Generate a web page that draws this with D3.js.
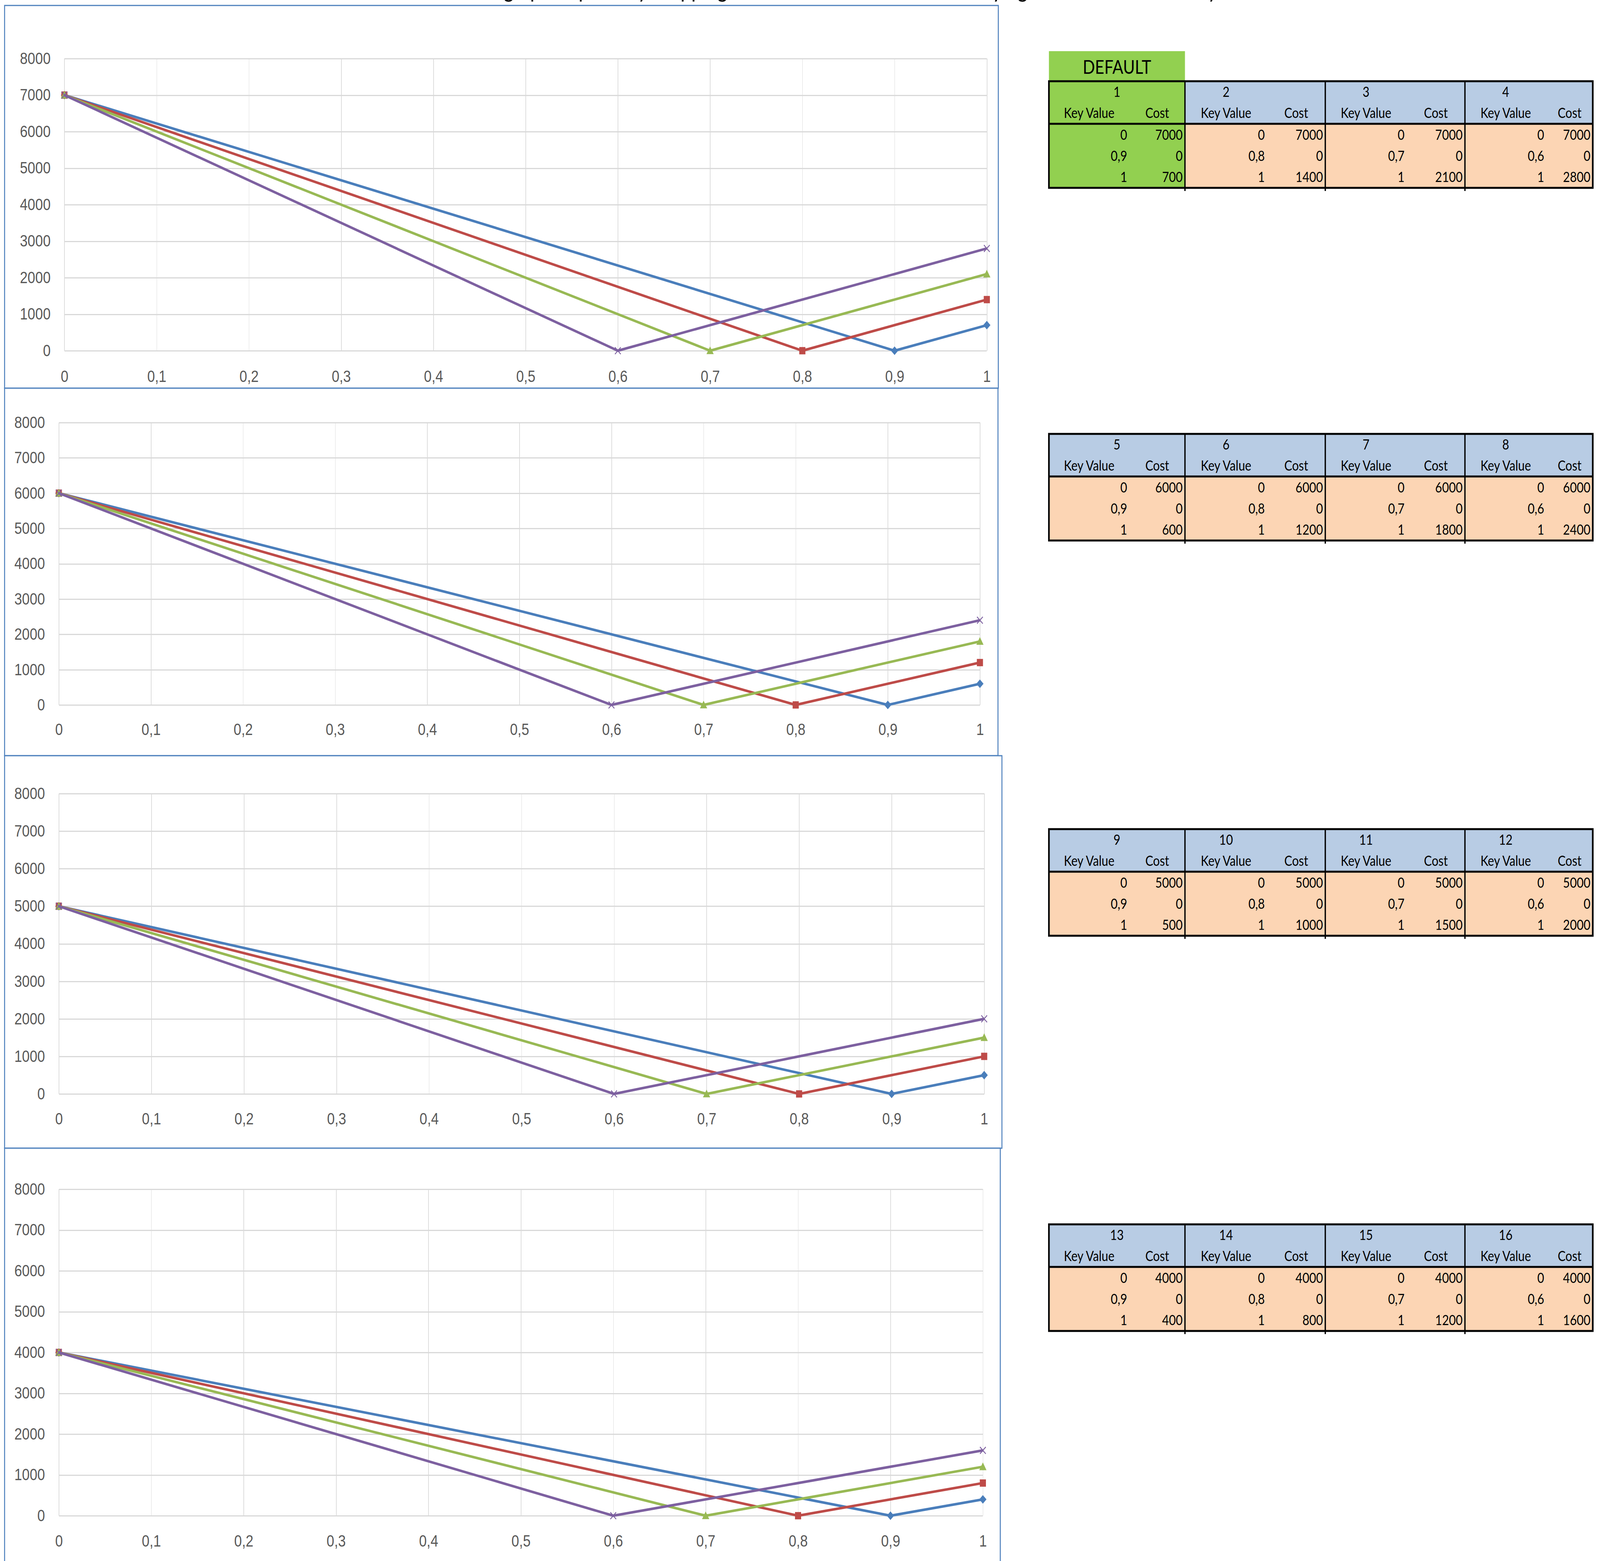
<!DOCTYPE html>
<html>
<head>
<script src="https://cdn.jsdelivr.net/npm/d3@7"></script>
<style>
  html, body { margin: 0; padding: 0; background: #fff; overflow: hidden; }
  svg { display: block; font-family: Lato, "Open Sans", sans-serif; }
  .grid line { shape-rendering: crispEdges; }
  .axis path, .grid path { display: none; }
  .axis text { fill: #595959; font-size: 42px; }
</style>
</head>
<body>
<script>
// ---- data ----
var tableNumbers = [[1, 2, 3, 4], [5, 6, 7, 8], [9, 10, 11, 12], [13, 14, 15, 16]];

// key values per series (same in every group)
var keyValues = [
  [0, 0.9, 1],
  [0, 0.8, 1],
  [0, 0.7, 1],
  [0, 0.6, 1]
];

// cost per group, per series
var costsGroup1 = [[7000, 0, 700], [7000, 0, 1400], [7000, 0, 2100], [7000, 0, 2800]];
var costsGroup2 = [[6000, 0, 600], [6000, 0, 1200], [6000, 0, 1800], [6000, 0, 2400]];
var costsGroup3 = [[5000, 0, 500], [5000, 0, 1000], [5000, 0, 1500], [5000, 0, 2000]];
var costsGroup4 = [[4000, 0, 400], [4000, 0, 800], [4000, 0, 1200], [4000, 0, 1600]];
var costs = [costsGroup1, costsGroup2, costsGroup3, costsGroup4];

var xTicks = [0, 0.1, 0.2, 0.3, 0.4, 0.5, 0.6, 0.7, 0.8, 0.9, 1];
var xTickLabels = ["0", "0,1", "0,2", "0,3", "0,4", "0,5", "0,6", "0,7", "0,8", "0,9", "1"];
var yTicks = [0, 1000, 2000, 3000, 4000, 5000, 6000, 7000, 8000];
var yTickLabels = ["0", "1000", "2000", "3000", "4000", "5000", "6000", "7000", "8000"];

var titleText = "Move the graph of point by dropping the start cost and then also varying the end cost in line by hand";

// ---- layout (sheet pixels) ----
var W = 4869, H = 3997;
var seriesColors = ["#4a7ebb", "#be4b48", "#98b954", "#7d60a0"];

var panes = [
  {box: [14, 14, 3038, 994],    x0: 196, x1: 3003, yTop: 150,  yBot: 898,  labelY: 963},
  {box: [14, 994, 3037, 1935],  x0: 179, x1: 2982, yTop: 1082, yBot: 1805, labelY: 1867},
  {box: [14, 1935, 3049, 2940], x0: 179, x1: 2995, yTop: 2032, yBot: 2801, labelY: 2864},
  {box: [14, 2940, 3044, 4120], x0: 179, x1: 2991, yTop: 3045, yBot: 3881, labelY: 3945}
];

var tableTops = [208, 1111, 2123, 3135];
var cellX = [3192, 3437, 3606, 3856, 4033, 4281, 4458, 4706, 4847];
var headH = 109, bodyH = 164;

// the window is narrower than the sheet, so the drawing is fitted to it
var svg = d3.select("body").append("svg")
  .attr("viewBox", "0 0 " + W + " " + H)
  .attr("preserveAspectRatio", "none")
  .style("width", "100vw")
  .style("height", "100vh");

svg.append("rect").attr("width", W).attr("height", H).attr("fill", "#fff");

// marker shapes (size = half extent)
var markerTypes = [
  {draw: function (c, s) { c.moveTo(0, -s); c.lineTo(s, 0); c.lineTo(0, s); c.lineTo(-s, 0); c.closePath(); }},
  {draw: function (c, s) { c.rect(-s * 0.85, -s * 0.85, s * 1.7, s * 1.7); }},
  {draw: function (c, s) { c.moveTo(0, -s); c.lineTo(s, s * 0.8); c.lineTo(-s, s * 0.8); c.closePath(); }},
  {draw: function (c, s) { c.moveTo(-s * 0.8, -s * 0.8); c.lineTo(s * 0.8, s * 0.8); c.moveTo(s * 0.8, -s * 0.8); c.lineTo(-s * 0.8, s * 0.8); }}
];

function fmt(v) {
  return String(v).replace(".", ",");
}

// ---- charts ----
panes.forEach(function (p, gi) {
  var g = svg.append("g");

  g.append("rect")
    .attr("x", p.box[0]).attr("y", p.box[1])
    .attr("width", p.box[2] - p.box[0]).attr("height", p.box[3] - p.box[1])
    .attr("fill", "#fff");

  var x = d3.scaleLinear().domain([0, 1]).range([p.x0, p.x1]);
  var y = d3.scaleLinear().domain([0, 8000]).range([p.yBot, p.yTop]);

  // gridlines
  g.append("g")
    .attr("class", "grid")
    .attr("transform", "translate(0," + p.yTop + ")")
    .call(d3.axisBottom(x).tickValues(xTicks).tickSize(p.yBot - p.yTop).tickFormat(""))
    .selectAll("line").attr("stroke", "#dedede").attr("stroke-width", 2);

  g.append("g")
    .attr("class", "grid")
    .attr("transform", "translate(" + p.x0 + ",0)")
    .call(d3.axisLeft(y).tickValues(yTicks).tickSize(-(p.x1 - p.x0)).tickFormat(""))
    .selectAll("line").attr("stroke", "#d9d9d9").attr("stroke-width", 3);

  // tick labels
  var xa = g.append("g")
    .attr("class", "axis")
    .attr("transform", "translate(0," + p.labelY + ")")
    .call(d3.axisBottom(x).tickValues(xTicks).tickSize(0).tickPadding(0)
      .tickFormat(function (d, i) { return xTickLabels[i]; }));
  xa.selectAll("text").attr("y", 0).attr("dy", "0.36em");
  xa.selectAll("line").remove();

  var ya = g.append("g")
    .attr("class", "axis")
    .attr("transform", "translate(" + (p.x0 - 42) + ",0)")
    .call(d3.axisLeft(y).tickValues(yTicks).tickSize(0).tickPadding(0)
      .tickFormat(function (d, i) { return yTickLabels[i]; }));
  ya.selectAll("line").remove();

  // series
  var line = d3.line()
    .x(function (d) { return x(d[0]); })
    .y(function (d) { return y(d[1]); });

  costs[gi].forEach(function (vals, si) {
    var pts = vals.map(function (c, k) { return [keyValues[si][k], c]; });
    g.append("path")
      .datum(pts)
      .attr("d", line)
      .attr("fill", "none")
      .attr("stroke", seriesColors[si])
      .attr("stroke-width", 6.5)
      .attr("stroke-linejoin", "round");

    g.selectAll(null)
      .data(pts)
      .enter().append("path")
      .attr("transform", function (d) { return "translate(" + x(d[0]) + "," + y(d[1]) + ")"; })
      .attr("d", d3.symbol().type(markerTypes[si]).size(11))
      .attr("fill", si === 3 ? "none" : seriesColors[si])
      .attr("stroke", si === 3 ? seriesColors[si] : "none")
      .attr("stroke-width", 2.5);
  });

  g.append("rect")
    .attr("x", p.box[0]).attr("y", p.box[1])
    .attr("width", p.box[2] - p.box[0]).attr("height", p.box[3] - p.box[1])
    .attr("fill", "none")
    .attr("stroke", "#4f81bd")
    .attr("stroke-width", 3);
});

// ---- tables ----
svg.append("rect")
  .attr("x", cellX[0]).attr("y", 131)
  .attr("width", cellX[2] - cellX[0]).attr("height", tableTops[0] - 131)
  .attr("fill", "#92d050");
svg.append("text")
  .attr("x", (cellX[0] + cellX[2]) / 2).attr("y", 189)
  .attr("text-anchor", "middle")
  .attr("font-size", 49)
  .text("DEFAULT");

tableNumbers.forEach(function (nums, gi) {
  var top = tableTops[gi];
  var tg = svg.append("g").attr("font-size", 36).attr("fill", "#000");

  nums.forEach(function (num, ti) {
    var xl = cellX[ti * 2], xm = cellX[ti * 2 + 1], xr = cellX[ti * 2 + 2];
    var isDefault = gi === 0 && ti === 0;

    tg.append("rect").attr("x", xl).attr("y", top).attr("width", xr - xl).attr("height", headH)
      .attr("fill", isDefault ? "#92d050" : "#b8cce4");
    tg.append("rect").attr("x", xl).attr("y", top + headH).attr("width", xr - xl).attr("height", bodyH)
      .attr("fill", isDefault ? "#92d050" : "#fcd5b4");

    tg.append("text")
      .attr("x", ti === 0 ? (xl + xr) / 2 : (xl + xm) / 2)
      .attr("y", top + 40)
      .attr("text-anchor", "middle")
      .text(num);
    tg.append("text").attr("x", (xl + xm) / 2).attr("y", top + 94)
      .attr("text-anchor", "middle").text("Key Value");
    tg.append("text").attr("x", (xm + xr) / 2).attr("y", top + 94)
      .attr("text-anchor", "middle").text("Cost");

    var rowY = [top + 150, top + 204, top + 258];
    keyValues[ti].forEach(function (kv, r) {
      tg.append("text").attr("x", xm - 7).attr("y", rowY[r])
        .attr("text-anchor", "end").text(fmt(kv));
      tg.append("text").attr("x", xr - 7).attr("y", rowY[r])
        .attr("text-anchor", "end").text(fmt(costs[gi][ti][r]));
    });

    if (ti > 0) {
      tg.append("line").attr("x1", xl).attr("x2", xl).attr("y1", top).attr("y2", top + headH + bodyH + 8)
        .attr("stroke", "#000").attr("stroke-width", 4);
    }
  });

  tg.append("line")
    .attr("x1", cellX[0]).attr("x2", cellX[8])
    .attr("y1", top + headH).attr("y2", top + headH)
    .attr("stroke", "#000").attr("stroke-width", 5);
  tg.append("rect")
    .attr("x", cellX[0]).attr("y", top)
    .attr("width", cellX[8] - cellX[0]).attr("height", headH + bodyH)
    .attr("fill", "none").attr("stroke", "#000").attr("stroke-width", 5);
});

// ---- title, almost entirely above the top edge ----
var title = svg.append("text").attr("font-size", 62).attr("fill", "#000").text(titleText);
var tn = title.node();
var iG = titleText.indexOf("graph");
var iY = titleText.lastIndexOf("by") + 1;
var pG = tn.getStartPositionOfChar(iG).x + tn.getExtentOfChar(iG).width / 2;
var pY = tn.getStartPositionOfChar(iY).x + tn.getExtentOfChar(iY).width / 2;
var s = (3690 - 1548) / (pY - pG);
title.attr("font-size", 62 * s)
  .attr("x", 1548 - pG * s)
  .attr("y", 6 - 0.2 * 62 * s);
</script>
</body>
</html>
